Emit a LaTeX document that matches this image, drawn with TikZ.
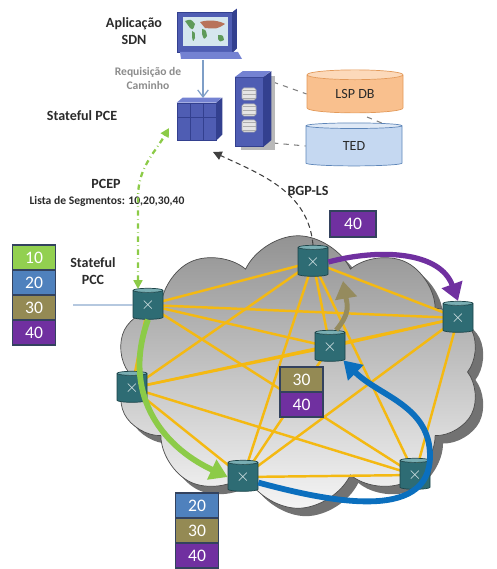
\documentclass[tikz,border=0pt]{standalone}
\usepackage{fontspec}
\setmainfont{Carlito}
\usetikzlibrary{shapes.geometric,shapes.symbols,arrows.meta,shadows}

\definecolor{meshyellow}{HTML}{F4B912}
\definecolor{segten}{HTML}{92D050}
\definecolor{segtwenty}{HTML}{4F81BD}
\definecolor{segthirty}{HTML}{948A54}
\definecolor{segforty}{HTML}{7030A0}
\definecolor{arrowgreen}{HTML}{8CCB48}
\definecolor{arrowblue}{HTML}{0B6FBE}
\definecolor{arrowolive}{HTML}{958B5E}
\definecolor{routerbody}{HTML}{2E6C74}
\definecolor{routertop}{HTML}{79AEB3}
\definecolor{routerline}{HTML}{1C4449}
\definecolor{boxline}{HTML}{33425E}
\definecolor{hwfront}{HTML}{4F5DB3}
\definecolor{hwtop}{HTML}{7482D2}
\definecolor{hwside}{HTML}{33408F}
\definecolor{lspbody}{HTML}{F9C08E}
\definecolor{lsptop}{HTML}{FCD9BA}
\definecolor{lspline}{HTML}{E39A5A}
\definecolor{tedbody}{HTML}{C5D8F1}
\definecolor{tedtop}{HTML}{DFE9F6}
\definecolor{tedline}{HTML}{5E86B9}
\definecolor{txtdark}{HTML}{2B2B2B}
\definecolor{mapsea}{HTML}{D5E6EE}
\definecolor{mapland}{HTML}{5E9A5A}
\definecolor{mapdry}{HTML}{B8735A}

\pgfdeclarelayer{cloudlayer}
\pgfdeclarelayer{edgelayer}
\pgfdeclarelayer{nodelayer}
\pgfsetlayers{cloudlayer,edgelayer,nodelayer,main}
\tikzstyle{none}=[inner sep=0pt]
\tikzstyle{caption}=[inner sep=0pt,align=center,text=txtdark,font=\bfseries\fontsize{8}{10}\selectfont]
\tikzstyle{smallcaption}=[inner sep=0pt,align=center,font=\bfseries\fontsize{6.6}{8.4}\selectfont]
\tikzstyle{cloudnet}=[cloud,cloud puffs=10,cloud puff arc=130,aspect=1.35,minimum width=7.3cm,minimum height=5.45cm,draw=gray!60!black,top color=gray!85,bottom color=gray!8,drop shadow={shadow xshift=4.5pt,shadow yshift=-4.5pt,fill=gray!70!black,opacity=0.85}]
\tikzstyle{router}=[cylinder,shape border rotate=90,aspect=0.3,minimum width=0.6cm,minimum height=0.62cm,inner sep=0pt,draw=routerline,cylinder uses custom fill,cylinder body fill=routerbody,cylinder end fill=routertop,text=white!75!routertop,font=\fontsize{10}{10}\selectfont]
\tikzstyle{segbox}=[draw=boxline,line width=0.7pt,minimum width=0.86cm,minimum height=0.5cm,inner sep=0pt,text=white,font=\fontsize{10}{10}\selectfont]
\tikzstyle{database}=[cylinder,shape border rotate=90,aspect=0.25,minimum width=1.92cm,minimum height=0.86cm,inner sep=0pt,cylinder uses custom fill,text=txtdark,font=\fontsize{8}{8}\selectfont]
\tikzstyle{mesh}=[-,draw=meshyellow,line width=1.4pt]
\tikzstyle{dbdash}=[-,draw=gray,dashed,line width=0.6pt]
\tikzstyle{request}=[-{Straight Barb[length=4pt,width=6pt]},draw=tedline!80,line width=0.7pt]
\tikzstyle{pcep}=[{Triangle[length=5pt,width=5pt]}-{Triangle[length=5pt,width=5pt]},draw=arrowgreen,dash dot,line width=1.3pt]
\tikzstyle{bgpls}=[-{Triangle[length=5pt,width=5pt]},draw=gray!50!black,densely dashed,line width=0.6pt]
\tikzstyle{lspath}=[-{Triangle[length=10pt,width=12pt]},line width=3.3pt]

\begin{document}
\begin{tikzpicture}
	\useasboundingbox (0,0) rectangle (9.92,-11.38);
	\begin{pgfonlayer}{cloudlayer}
		\node [style=cloudnet] (0) at (5.96, -7.44) {};
	\end{pgfonlayer}
	\begin{pgfonlayer}{nodelayer}
		% routers
		\node [style=router] (1) at (2.96, -6.1) {$\times$};
		\node [style=router] (2) at (6.26, -5.24) {$\times$};
		\node [style=router] (3) at (9.16, -6.36) {$\times$};
		\node [style=router] (4) at (6.6, -6.94) {$\times$};
		\node [style=router] (5) at (2.64, -7.76) {$\times$};
		\node [style=router] (6) at (4.86, -9.54) {$\times$};
		\node [style=router] (7) at (8.3, -9.5) {$\times$};
		% SDN application
		\node [style=none, fill=hwfront, draw=hwside, minimum width=1.1cm, minimum height=0.8cm] (8) at (4.1, -0.64) {};
		\fill [hwside] (8.north east) -- ++(0.08, 0.06) -- ++(0, -0.8) -- (8.south east) -- cycle;
		\fill [hwtop] (3.6, -1.04) -- (4.76, -1.04) -- (4.84, -1.18) -- (3.62, -1.18) -- cycle;
		\fill [mapsea] (3.65, -0.34) rectangle (4.55, -0.92);
		\fill [mapland] (3.7, -0.42) .. controls (3.82, -0.38) .. (3.9, -0.48) .. controls (3.86, -0.6) .. (3.8, -0.56) -- cycle;
		\fill [mapland] (3.84, -0.62) .. controls (3.9, -0.64) .. (3.9, -0.76) .. controls (3.86, -0.84) .. (3.84, -0.74) -- cycle;
		\fill [mapdry] (4.0, -0.44) .. controls (4.2, -0.38) and (4.4, -0.42) .. (4.5, -0.48) .. controls (4.34, -0.58) .. (4.1, -0.56) -- cycle;
		\fill [mapland] (4.04, -0.58) .. controls (4.12, -0.6) .. (4.14, -0.72) .. controls (4.08, -0.8) .. (4.04, -0.68) -- cycle;
		\fill [mapland] (4.36, -0.7) .. controls (4.46, -0.7) .. (4.48, -0.8) .. controls (4.4, -0.84) .. (4.36, -0.78) -- cycle;
		% PCE
		\node [style=none, fill=hwfront, draw=hwside, minimum width=0.78cm, minimum height=0.74cm] (9) at (3.93, -2.43) {};
		\fill [hwtop] (9.north west) -- ++(0.12, 0.1) -- ++(0.78, 0) -- (9.north east) -- cycle;
		\fill [hwside] (9.north east) -- ++(0.12, 0.1) -- ++(0, -0.74) -- (9.south east) -- cycle;
		\draw [hwside, line width=0.5pt] (3.8, -2.06) -- (3.8, -2.8) (4.06, -2.06) -- (4.06, -2.8) (3.54, -2.34) -- (4.32, -2.34);
		% server
		\fill [gray!55] (4.82, -1.52) rectangle (5.5, -3.0);
		\node [style=none, fill=hwfront, draw=hwside, minimum width=0.56cm, minimum height=1.38cm] (10) at (4.98, -2.24) {};
		\fill [hwtop] (10.north west) -- ++(0.16, 0.12) -- ++(0.56, 0) -- (10.north east) -- cycle;
		\fill [hwside] (10.north east) -- ++(0.16, 0.12) -- ++(0, -1.38) -- (10.south east) -- cycle;
		\foreach \y in {-1.88, -2.2, -2.52}
			\fill [gray!20, draw=gray!60, line width=0.3pt, rounded corners=1pt] (4.84, \y + 0.12) rectangle (5.12, \y - 0.12);
		\foreach \y in {-1.8, -1.88, -1.96, -2.12, -2.2, -2.28, -2.44, -2.52, -2.6}
			\draw [gray!65, line width=0.4pt] (4.85, \y) -- (5.11, \y);
		% databases
		\node [style=database, draw=lspline, cylinder body fill=lspbody, cylinder end fill=lsptop] (11) at (7.1, -1.88) {LSP DB};
		\node [style=database, draw=tedline, cylinder body fill=tedbody, cylinder end fill=tedtop] (12) at (7.08, -2.92) {TED};
		% texts
		\node [style=caption] (13) at (2.68, -0.62) {Aplicação\\SDN};
		\node [style=smallcaption, text=gray!90] (14) at (2.96, -1.57) {Requisição de\\Caminho};
		\node [style=caption] (15) at (1.64, -2.32) {Stateful PCE};
		\node [style=caption] (16) at (2.12, -3.68) {PCEP};
		\node [style=smallcaption, text=txtdark, fill=white, inner sep=1pt] (17) at (2.14, -4.02) {Lista de Segmentos: 10,20,30,40};
		\node [style=caption] (18) at (1.86, -5.42) {Stateful\\PCC};
		\node [style=caption] (19) at (6.16, -3.82) {BGP-LS};
		% segment lists
		\node [style=segbox, fill=segten] (20) at (0.68, -5.15) {10};
		\node [style=segbox, fill=segtwenty] (21) at (0.68, -5.65) {20};
		\node [style=segbox, fill=segthirty] (22) at (0.68, -6.15) {30};
		\node [style=segbox, fill=segforty] (23) at (0.68, -6.65) {40};
		\node [style=segbox, fill=segforty, minimum width=0.92cm, minimum height=0.52cm] (24) at (7.06, -4.48) {40};
		\node [style=segbox, fill=segthirty] (25) at (6.03, -7.59) {30};
		\node [style=segbox, fill=segforty] (26) at (6.03, -8.09) {40};
		\node [style=segbox, fill=segtwenty] (27) at (3.94, -10.11) {20};
		\node [style=segbox, fill=segthirty] (28) at (3.94, -10.61) {30};
		\node [style=segbox, fill=segforty] (29) at (3.94, -11.11) {40};
		% path points
		\node [style=none] (30) at (3.38, -2.56) {};
		\node [style=none] (31) at (2.76, -5.78) {};
		\node [style=none] (32) at (4.26, -3.04) {};
		\node [style=none] (33) at (1.46, -6.1) {};
		\node [style=none] (34) at (8.6, -9.12) {};
		\node [style=none] (35) at (6.86, -5.62) {};
		\node [style=none] (36) at (2.76, -3.95) {};
		\node [style=none] (37) at (5.46, -1.64) {};
		\node [style=none] (38) at (5.46, -2.86) {};
		\node [style=none] (39) at (7.34, -2.34) {};
		\node [style=none] (40) at (7.88, -2.56) {};
		\node [style=none] (41) at (4.06, -1.2) {};
		\node [style=none] (42) at (4.06, -1.96) {};
	\end{pgfonlayer}
	\begin{pgfonlayer}{edgelayer}
		\draw [style=mesh] (1.center) to (2.center);
		\draw [style=mesh] (1.center) to (3.center);
		\draw [style=mesh] (1.center) to (4.center);
		\draw [style=mesh] (1.center) to (5.center);
		\draw [style=mesh] (1.center) to (7.center);
		\draw [style=mesh] (2.center) to (3.center);
		\draw [style=mesh] (2.center) to (4.center);
		\draw [style=mesh] (2.center) to (5.center);
		\draw [style=mesh] (2.center) to (6.center);
		\draw [style=mesh] (2.center) to (7.center);
		\draw [style=mesh] (3.center) to (4.center);
		\draw [style=mesh] (3.center) to (5.center);
		\draw [style=mesh] (3.center) to (6.center);
		\draw [style=mesh] (3.center) to (7.center);
		\draw [style=mesh] (4.center) to (5.center);
		\draw [style=mesh] (4.center) to (6.center);
		\draw [style=mesh] (5.center) to (6.center);
		\draw [style=mesh] (5.center) to (7.center);
		\draw [style=mesh] (6.center) to (7.center);
		\draw [style=dbdash] (37.center) to (11.west);
		\draw [style=dbdash] (38.center) to (12.west);
		\draw [style=dbdash] (39.center) to (40.center);
		\draw [draw=tedline!70, line width=0.6pt] (33.center) to (1.west);
		\draw [style=request] (41.center) to (42.center);
	\end{pgfonlayer}
	% signalling and label switched paths
	\draw [style=pcep] (31.center) to (36.center) to [out=90, in=-120] (30.center);
	\draw [style=bgpls] (2.north) to [out=95, in=-25] (32.center);
	\draw [style=lspath, draw=arrowgreen] (1.south) to [out=250, in=155, looseness=1.1] (6.west);
	\draw [style=lspath, draw=arrowolive, line width=2.8pt] (4.70) to [out=50, in=-80, looseness=1.2] (35.center);
	\draw [style=lspath, draw=segforty, line width=3pt] (2.east) to [out=15, in=110] (3.north);
	\draw [style=lspath, draw=arrowblue] (6.-20) to [out=-15, in=-90] (34.center) to [out=90, in=-45] (4.south east);
\end{tikzpicture}
\end{document}
